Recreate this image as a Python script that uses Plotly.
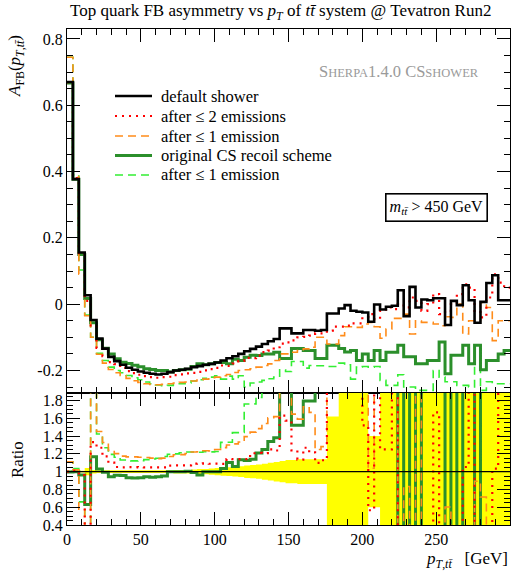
import numpy as np
import plotly.graph_objects as go

# ---------------- data (4 GeV bins, 0-300 GeV) ----------------
bin_edges = list(range(0, 301, 4))

default_shower = [0.67, 0.377, 0.156, 0.027, -0.048, -0.104, -0.134, -0.159, -0.172, -0.183,
                  -0.192, -0.198, -0.203, -0.207, -0.21, -0.212, -0.21, -0.205, -0.2, -0.198,
                  -0.195, -0.19, -0.187, -0.183, -0.18, -0.176, -0.17, -0.163, -0.157, -0.15,
                  -0.142, -0.135, -0.128, -0.12, -0.112, -0.105, -0.073, -0.073, -0.088, -0.088,
                  -0.078, -0.078, -0.08, -0.078, -0.028, -0.028, -0.013, -0.003, -0.02, -0.023,
                  -0.025, -0.053, -0.001, -0.016, -0.008, -0.005, 0.042, -0.036, 0.052, -0.01,
                  0.014, 0.012, 0.018, 0.018, -0.063, 0.01, -0.003, 0.057, 0.012, -0.056,
                  0.007, 0.064, 0.087, 0.012, 0.012]
after2_default = [0.67, 0.38, 0.15, 0.01, -0.064, -0.132, -0.157, -0.175, -0.181, -0.192,
                  -0.202, -0.208, -0.213, -0.217, -0.22, -0.222, -0.22, -0.219, -0.214, -0.212,
                  -0.209, -0.207, -0.204, -0.2, -0.196, -0.192, -0.185, -0.186, -0.179, -0.171,
                  -0.162, -0.163, -0.155, -0.145, -0.14, -0.13, -0.119, -0.115, -0.109, -0.1,
                  -0.099, -0.095, -0.088, -0.088, -0.08, -0.068, -0.068, -0.065, -0.058, -0.058,
                  -0.038, -0.03, -0.045, -0.02, -0.01, -0.015, 0.0, -0.01, 0.02, 0.01,
                  -0.02, 0.0, 0.03, -0.03, -0.02, 0.0, 0.03, 0.06, 0.05, -0.02,
                  -0.04, 0.02, 0.09, 0.065, 0.05]
after1_default = [0.745, 0.385, 0.09, -0.035, -0.1, -0.151, -0.178, -0.197, -0.207, -0.215,
                  -0.224, -0.231, -0.236, -0.24, -0.242, -0.243, -0.242, -0.24, -0.238, -0.236,
                  -0.235, -0.232, -0.229, -0.226, -0.222, -0.22, -0.216, -0.212, -0.206, -0.2,
                  -0.198, -0.195, -0.19, -0.185, -0.18, -0.17, -0.15, -0.15, -0.145, -0.14,
                  -0.135, -0.13, -0.1, -0.1, -0.12, -0.12, -0.095, -0.068, -0.068, -0.07,
                  -0.06, -0.055, -0.068, -0.103, -0.075, -0.043, -0.043, -0.03, -0.09, -0.05,
                  -0.055, -0.055, -0.06, -0.065, -0.038, -0.04, 0.0, -0.09, -0.05, -0.05,
                  0.005, -0.01, -0.11, -0.05, -0.05]
orig_cs = [0.667, 0.377, 0.15, 0.017, -0.056, -0.107, -0.133, -0.15, -0.165, -0.175,
           -0.179, -0.184, -0.189, -0.195, -0.197, -0.2, -0.2, -0.205, -0.2, -0.198,
           -0.196, -0.188, -0.18, -0.183, -0.18, -0.176, -0.176, -0.18, -0.166, -0.17,
           -0.16, -0.154, -0.155, -0.15, -0.15, -0.145, -0.164, -0.164, -0.134, -0.134,
           -0.14, -0.14, -0.164, -0.164, -0.124, -0.124, -0.134, -0.144, -0.14, -0.17,
           -0.15, -0.17, -0.14, -0.17, -0.145, -0.145, -0.124, -0.159, -0.159, -0.18,
           -0.18, -0.17, -0.17, -0.114, -0.21, -0.154, -0.154, -0.124, -0.18, -0.124,
           -0.198, -0.17, -0.17, -0.15, -0.14]
orig_cs_after1 = [0.745, 0.39, 0.103, -0.033, -0.1, -0.148, -0.17, -0.19, -0.2, -0.207,
                  -0.215, -0.222, -0.228, -0.235, -0.24, -0.244, -0.246, -0.245, -0.24, -0.24,
                  -0.238, -0.232, -0.228, -0.224, -0.22, -0.216, -0.226, -0.217, -0.226, -0.216,
                  -0.25, -0.238, -0.235, -0.23, -0.225, -0.22, -0.198, -0.203, -0.173, -0.173,
                  -0.193, -0.185, -0.186, -0.186, -0.188, -0.188, -0.178, -0.183, -0.226, -0.19,
                  -0.188, -0.19, -0.188, -0.23, -0.245, -0.245, -0.213, -0.25, -0.25, -0.26,
                  -0.26, -0.26, -0.2, -0.22, -0.234, -0.234, -0.245, -0.245, -0.25, -0.188,
                  -0.26, -0.234, -0.24, -0.24, -0.24]
ref_rel_err = [0.01, 0.01, 0.01, 0.04, 0.02, 0.015, 0.015, 0.015, 0.015, 0.015,
               0.015, 0.015, 0.015, 0.015, 0.015, 0.015, 0.015, 0.015, 0.02, 0.02,
               0.02, 0.025, 0.03, 0.03, 0.035, 0.04, 0.045, 0.05, 0.055, 0.06,
               0.07, 0.075, 0.08, 0.09, 0.1, 0.11, 0.12, 0.13, 0.13, 0.14,
               0.14, 0.14, 0.14, 0.14, 0.62, 0.62, 1.0, 1.0, 1.0, 1.0,
               1.0, 0.4, 0.4, 1.0, 1.0, 1.0, 1.0, 1.0, 1.0, 1.0,
               1.0, 1.0, 1.0, 1.0, 1.0, 1.0, 1.0, 1.0, 1.0, 1.0,
               1.0, 1.0, 1.0, 1.0, 1.0]

series_names = ["default shower", "after \u2264 2 emissions", "after \u2264 1 emission",
                "original CS recoil scheme", "after \u2264 1 emission"]

# ---------------- style ----------------
FONT = "Liberation Serif"
styles = [
    dict(color="black", width=2.6, dash="solid"),
    dict(color="#ff0000", width=2.2, dash="2px,5px"),
    dict(color="#ff8c1a", width=1.6, dash="8px,5px"),
    dict(color="#2b8f2b", width=3.0, dash="solid"),
    dict(color="#33ee33", width=1.6, dash="8px,5px"),
]
all_series = [default_shower, after2_default, after1_default, orig_cs, orig_cs_after1]


def step_y(vals):
    return list(vals) + [vals[-1]]


W, H = 521, 575
L, R, T, B = 67, 11, 29, 50
PW, PH = W - L - R, H - T - B
split = (525 - 393) / PH


def px(xp):
    return (xp - L) / PW


def py(yp):
    return (H - B - yp) / PH


fig = go.Figure()
ref = np.array(default_shower, dtype=float)
err = np.array(ref_rel_err, dtype=float)

# ratio band (reference uncertainty)
fig.add_trace(go.Scatter(x=bin_edges, y=step_y(list(1 - err)), line_shape="hv",
                         mode="lines", line=dict(width=0, color="yellow"),
                         showlegend=False, xaxis="x2", yaxis="y2", hoverinfo="skip"))
fig.add_trace(go.Scatter(x=bin_edges, y=step_y(list(1 + err)), line_shape="hv",
                         mode="lines", line=dict(width=0, color="yellow"), fill="tonexty",
                         fillcolor="#ffff00", showlegend=False, xaxis="x2", yaxis="y2",
                         hoverinfo="skip"))

order = [4, 3, 2, 1, 0]
for i in order:
    st = styles[i]
    fig.add_trace(go.Scatter(x=bin_edges, y=step_y(all_series[i]), line_shape="hv",
                             mode="lines", name=series_names[i],
                             line=dict(color=st["color"], width=st["width"], dash=st["dash"]),
                             showlegend=False, xaxis="x", yaxis="y"))
for i in order[:-1]:
    st = styles[i]
    r = np.array(all_series[i], dtype=float) / ref
    r = np.clip(r, -20, 20)
    fig.add_trace(go.Scatter(x=bin_edges, y=step_y(list(r)), line_shape="hv",
                             mode="lines", name=series_names[i],
                             line=dict(color=st["color"], width=st["width"], dash=st["dash"]),
                             showlegend=False, xaxis="x2", yaxis="y2"))
# reference line at 1 in ratio
fig.add_trace(go.Scatter(x=[0, 300], y=[1, 1], mode="lines", line=dict(color="black", width=1.3),
                         showlegend=False, xaxis="x2", yaxis="y2", hoverinfo="skip"))

axis_common = dict(showline=True, linecolor="black", linewidth=1.2, mirror="allticks",
                   ticks="inside", ticklen=13, tickwidth=1.1, tickcolor="black",
                   showgrid=False, zeroline=False,
                   tickfont=dict(family=FONT, size=16, color="black"))
minor_common = dict(ticks="inside", ticklen=6, tickwidth=1, tickcolor="black", showgrid=False)

fig.update_layout(
    width=W, height=H, margin=dict(l=L, r=R, t=T, b=B, autoexpand=False),
    paper_bgcolor="white", plot_bgcolor="white",
    font=dict(family=FONT, color="black"),
    showlegend=False,
    xaxis=dict(range=[0, 300], domain=[0, 1], anchor="y", showticklabels=False,
               dtick=50, tick0=0, minor=dict(dtick=10, **minor_common), **axis_common),
    yaxis=dict(range=[-0.268, 0.83], domain=[split, 1], anchor="x",
               tickvals=[-0.2, 0, 0.2, 0.4, 0.6, 0.8],
               ticktext=["-0.2", "0", "0.2", "0.4", "0.6", "0.8"],
               minor=dict(dtick=0.05, tick0=0, **minor_common), **axis_common),
    xaxis2=dict(range=[0, 300], domain=[0, 1], anchor="y2", dtick=50, tick0=0,
                minor=dict(dtick=10, **minor_common), **axis_common),
    yaxis2=dict(range=[0.4, 1.885], domain=[0, split], anchor="x2",
                tickvals=[0.4, 0.6, 0.8, 1.0, 1.2, 1.4, 1.6, 1.8],
                ticktext=["0.4", "0.6", "0.8", "1", "1.2", "1.4", "1.6", "1.8"],
                minor=dict(dtick=0.05, tick0=0, **minor_common), **axis_common),
)

# ---------------- legend (drawn manually to match spacing) ----------------
legend_rows = [96, 116, 136, 155.5, 175]
for i, yrow in enumerate(legend_rows):
    st = styles[i]
    fig.add_shape(type="line", xref="paper", yref="paper", x0=px(115), x1=px(152),
                  y0=py(yrow), y1=py(yrow),
                  line=dict(color=st["color"], width=st["width"], dash=st["dash"]))
    fig.add_annotation(text=series_names[i], xref="paper", yref="paper", x=px(159), y=py(yrow),
                       xanchor="left", yanchor="middle", showarrow=False,
                       font=dict(family=FONT, size=16.5, color="black"))

# ---------------- texts ----------------
fig.add_annotation(text="Top quark FB asymmetry vs <i>p<sub>T</sub></i> of <i>tt\u0304</i> system @ Tevatron Run2",
                   xref="paper", yref="paper", x=px(280), y=py(12), xanchor="center", yanchor="middle",
                   showarrow=False, font=dict(family=FONT, size=17, color="black"))
fig.add_annotation(text="<i>A</i><sub>FB</sub>(<i>p</i><sub><i>T</i>,<i>tt\u0304</i></sub>)",
                   xref="paper", yref="paper", x=px(16), y=py(66),
                   xanchor="center", yanchor="middle", textangle=-90, showarrow=False,
                   font=dict(family=FONT, size=17, color="black"))
fig.add_annotation(text="Ratio", xref="paper", yref="paper", x=px(17), y=py(460),
                   xanchor="center", yanchor="middle", textangle=-90, showarrow=False,
                   font=dict(family=FONT, size=17, color="black"))
fig.add_annotation(text="<i>p</i><sub><i>T</i>,<i>tt\u0304</i></sub>   [GeV]", xref="paper", yref="paper",
                   x=px(510), y=py(560), xanchor="right", yanchor="middle", showarrow=False,
                   font=dict(family=FONT, size=17, color="black"))
fig.add_annotation(text="S<span style='font-size:12.5px'>HERPA</span>1.4.0 CS<span style='font-size:12.5px'>SHOWER</span>",
                   xref="paper", yref="paper", x=px(481), y=py(71), xanchor="right", yanchor="middle",
                   showarrow=False, font=dict(family=FONT, size=16.5, color="#9a9a9a"))
fig.add_annotation(text="<i>m</i><sub><i>tt\u0304</i></sub> > 450 GeV", xref="paper", yref="paper",
                   x=px(488), y=py(207.5), xanchor="right", yanchor="middle", showarrow=False,
                   bordercolor="black", borderwidth=1.6, borderpad=3, bgcolor="white",
                   font=dict(family=FONT, size=16, color="black"))

fig.write_html("out.html", config={"displayModeBar": False},
               post_script="document.body.style.margin='0px';")
